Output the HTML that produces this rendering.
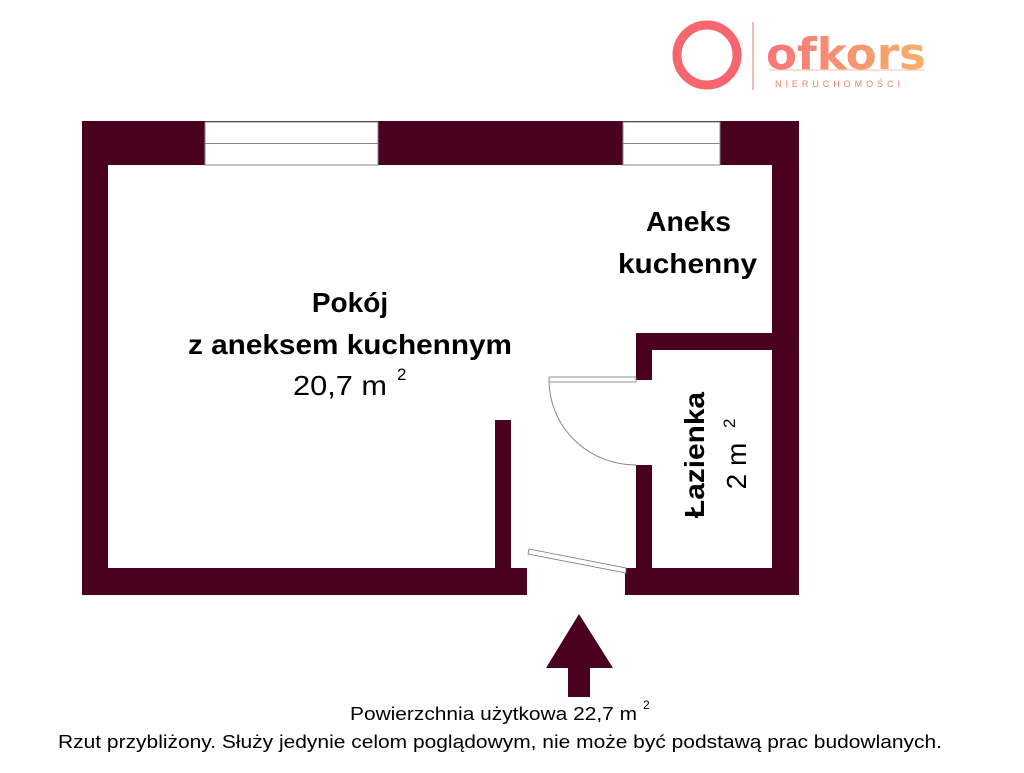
<!DOCTYPE html>
<html><head><meta charset="utf-8"><style>
body{margin:0;background:#fff;width:1024px;height:768px;overflow:hidden;font-family:"Liberation Sans",sans-serif}
</style></head><body>
<svg width="1024" height="768" viewBox="0 0 1024 768" xmlns="http://www.w3.org/2000/svg">
<defs><linearGradient id="g" x1="0" x2="1"><stop offset="0" stop-color="#f6767a"/><stop offset="1" stop-color="#f7b06a"/></linearGradient></defs>
<!-- logo -->
<circle cx="707" cy="55" r="30" fill="none" stroke="#f7666e" stroke-width="9"/>
<line x1="753" y1="22" x2="753" y2="90" stroke="#f4a08a" stroke-width="1.5"/>
<text x="766" y="69" font-family="DejaVu Sans, sans-serif" font-weight="bold" font-size="44" fill="url(#g)" textLength="160" lengthAdjust="spacingAndGlyphs">ofkors</text>
<line x1="769" y1="70" x2="925" y2="70" stroke="#f4c0a0" stroke-width="1"/>
<text x="775" y="87" font-size="9" fill="#ee8070" textLength="125" lengthAdjust="spacing">NIERUCHOMOŚCI</text>
<!-- walls -->
<g fill="#4a001f">
<rect x="82" y="121" width="717" height="44"/>
<rect x="82" y="121" width="26" height="474"/>
<rect x="772" y="121" width="27" height="474"/>
<rect x="82" y="568" width="445" height="27"/>
<rect x="625" y="568" width="174" height="27"/>
<rect x="636" y="333" width="136" height="17"/>
<rect x="636" y="333" width="16" height="47"/>
<rect x="636" y="465" width="16" height="103"/>
<rect x="495" y="420" width="16" height="148"/>
</g>
<!-- windows -->
<g fill="#fff" stroke="#888" stroke-width="1">
<rect x="205" y="122" width="173" height="43"/><line x1="205" y1="143.5" x2="378" y2="143.5"/>
<rect x="623" y="122" width="97" height="43"/><line x1="623" y1="143.5" x2="720" y2="143.5"/>
</g>
<!-- doors -->
<rect x="549" y="377" width="87" height="5" fill="#fff" stroke="#777" stroke-width="0.8"/>
<path d="M549 380 A87 85 0 0 0 636 465" fill="none" stroke="#888" stroke-width="1"/>
<polygon points="529,549 626,568 626,573 528,554" fill="#fff" stroke="#777" stroke-width="0.8"/>
<!-- arrow -->
<polygon points="579,614 613,668 590,668 590,697 568,697 568,668 546,668" fill="#4a001f"/>
<!-- labels -->
<g font-family="Liberation Sans, sans-serif" fill="#000">
<text x="350" y="312" font-size="28" font-weight="bold" text-anchor="middle">Pokój</text>
<text x="188" y="354" font-size="28" font-weight="bold" textLength="324" lengthAdjust="spacingAndGlyphs">z aneksem kuchennym</text>
<text x="293" y="395" font-size="28" textLength="94" lengthAdjust="spacingAndGlyphs">20,7 m</text><text x="397" y="380" font-size="17">2</text>
<text x="646" y="231" font-size="28" font-weight="bold" textLength="85" lengthAdjust="spacingAndGlyphs">Aneks</text>
<text x="618" y="273" font-size="28" font-weight="bold" textLength="139" lengthAdjust="spacingAndGlyphs">kuchenny</text>
<text transform="translate(704,518) rotate(-90)" font-size="28" font-weight="bold" textLength="126" lengthAdjust="spacingAndGlyphs">Łazienka</text>
<text transform="translate(746,466) rotate(-90)" font-size="28" text-anchor="middle">2 m</text>
<text transform="translate(735,428) rotate(-90)" font-size="17">2</text>
<text x="350" y="720" font-size="18" textLength="287" lengthAdjust="spacingAndGlyphs">Powierzchnia użytkowa 22,7 m</text><text x="643" y="709" font-size="12">2</text>
<text x="58" y="748" font-size="18" textLength="884" lengthAdjust="spacingAndGlyphs">Rzut przybliżony. Służy jedynie celom poglądowym, nie może być podstawą prac budowlanych.</text>
</g>
</svg>
</body></html>
